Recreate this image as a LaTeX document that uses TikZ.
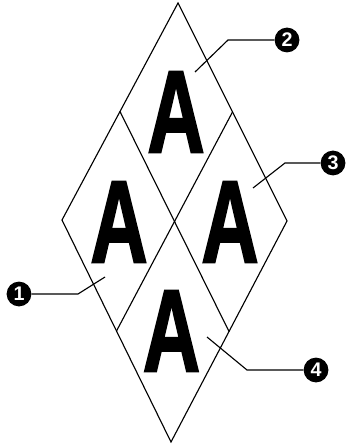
\documentclass[tikz,border=0pt]{standalone}
\usepackage{fontspec}
\setsansfont{Liberation Sans}
\newfontfamily\heavyfont{Liberation Sans}[BoldFeatures={FakeBold=2}]
\usetikzlibrary{calc}

\begin{document}
\begin{tikzpicture}[x=0.025cm, y=-0.025cm, edge/.style={line width=0.8pt, line join=miter}, letter/.style={font=\heavyfont\bfseries\fontsize{83}{83}\selectfont, inner sep=0}, callout/.style={circle, fill=black, text=white, minimum size=0.62cm, inner sep=0, font=\sffamily\bfseries\fontsize{14}{14}\selectfont}, leader/.style={line width=0.8pt}]

\useasboundingbox (0,0) rectangle (347,445);
% outer diamond and its four parts
\coordinate (T) at (178,3); \coordinate (L) at (62,220); \coordinate (R) at (287,221); \coordinate (B) at (171,442);
\draw[edge] (T)--(R)--(B)--(L)--cycle;
\draw[edge] ($(T)!0.5!(L)$)--($(R)!0.5!(B)$); \draw[edge] ($(T)!0.5!(R)$)--($(L)!0.5!(B)$);

\node[letter] (aTop) at (176,112) {\scalebox{0.68}[1]{A}};
\node[letter] (aLeft) at (119,222) {\scalebox{0.68}[1]{A}};
\node[letter] (aRight) at (230,222) {\scalebox{0.68}[1]{A}};
\node[letter] (aBottom) at (171.5,331) {\scalebox{0.68}[1]{A}};

% callouts
\node[callout] (n1) at (19,294) {1}; \coordinate (k1) at (78,294); \coordinate (p1) at (105,277);
\node[callout] (n2) at (287,40) {2}; \coordinate (k2) at (228,40); \coordinate (p2) at (195,72);
\node[callout] (n3) at (333,163) {3}; \coordinate (k3) at (285,163); \coordinate (p3) at (253,188);
\node[callout] (n4) at (316,370) {4}; \coordinate (k4) at (247,370); \coordinate (p4) at (207,337);
\draw[leader] (n1)--(k1)--(p1); \draw[leader] (n2)--(k2)--(p2);
\draw[leader] (n3)--(k3)--(p3); \draw[leader] (n4)--(k4)--(p4);
\end{tikzpicture}
\end{document}
